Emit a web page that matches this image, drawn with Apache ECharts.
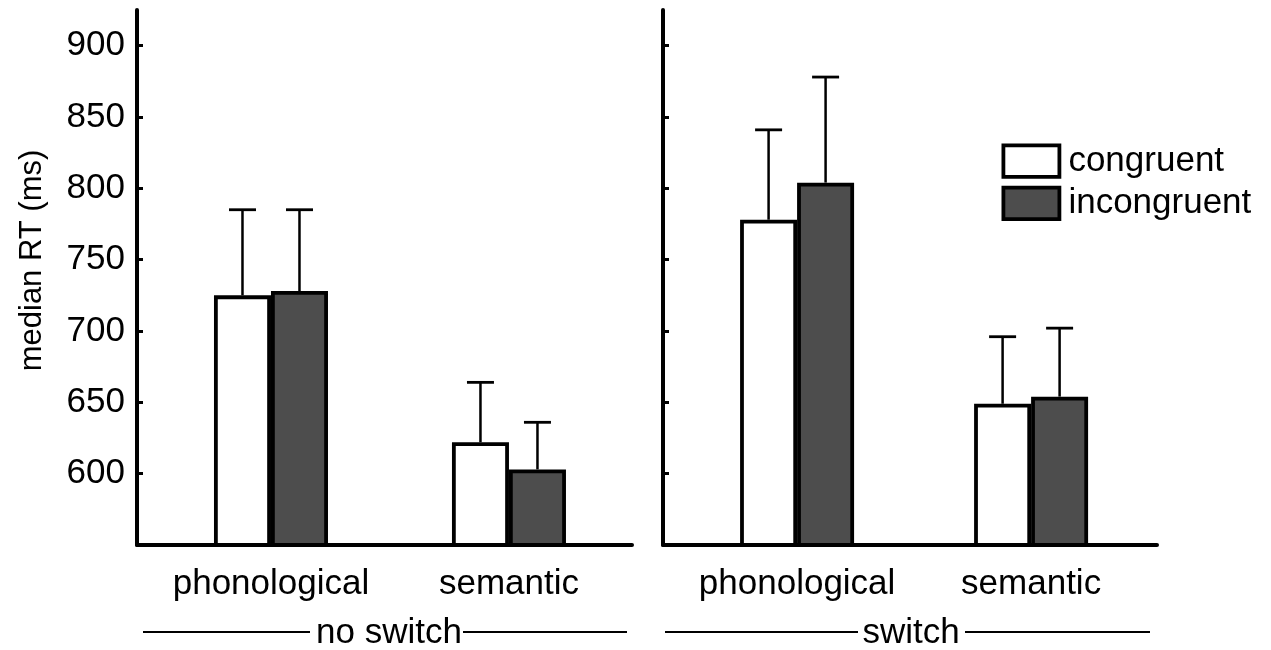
<!DOCTYPE html>
<html>
<head>
<meta charset="utf-8">
<script src="https://cdn.jsdelivr.net/npm/echarts@6/dist/echarts.min.js"></script>
<style>
html,body{margin:0;padding:0;background:#ffffff;}
#chart{width:1271px;height:650px;}
</style>
</head>
<body>
<div id="chart"></div>
<script>
// ---- data ----
const categories = ['phonological', 'semantic'];
const conditions = ['no switch', 'switch'];
const seriesNames = ['congruent', 'incongruent'];
const yTicks = [600, 650, 700, 750, 800, 850, 900];

const noSwitchCongruent = [725, 622];
const noSwitchIncongruent = [728, 603];
const switchCongruent = [778, 649];
const switchIncongruent = [804, 654];

const noSwitchCongruentErr = [60, 42];
const noSwitchIncongruentErr = [57, 33];
const switchCongruentErr = [63, 47];
const switchIncongruentErr = [74, 48];

// ---- styling ----
const FONT = '"Liberation Sans", Arial, Helvetica, sans-serif';
const FS = 35;
const BAR_W = 57;
const CAP_W = 27;
const DARK = '#4d4d4d';

const panels = [
  { cong: noSwitchCongruent, incong: noSwitchIncongruent, congErr: noSwitchCongruentErr, incongErr: noSwitchIncongruentErr },
  { cong: switchCongruent, incong: switchIncongruent, congErr: switchCongruentErr, incongErr: switchIncongruentErr }
];

const grids = [
  { left: 137, width: 495, top: 10, height: 535 },
  { left: 663, width: 494, top: 10, height: 535 }
];
const xRanges = [[0.437, 2.517], [0.427, 2.538]];

const xAxes = grids.map((g, p) => ({
  type: 'value', gridIndex: p, min: xRanges[p][0], max: xRanges[p][1], z: 5,
  axisLine: { show: true, onZero: false, lineStyle: { color: '#000', width: 4 } },
  axisTick: { show: false },
  splitLine: { show: false },
  axisLabel: {
    customValues: categories.map((c, i) => i + 1),
    formatter: v => categories[Math.round(v) - 1] || '',
    color: '#000', fontSize: FS, fontFamily: FONT, margin: 22
  }
}));

const yAxes = grids.map((g, p) => ({
  type: 'value', gridIndex: p, min: 550, max: 925, interval: 50, z: 5,
  name: p === 0 ? 'median RT (ms)' : '',
  nameLocation: 'middle', nameGap: 89,
  nameTextStyle: { color: '#000', fontSize: 31, fontFamily: FONT, padding: [0, 0, 0, 34] },
  axisLine: { show: true, onZero: false, lineStyle: { color: '#000', width: 4 } },
  axisTick: { show: true, inside: true, length: 6, customValues: yTicks, lineStyle: { color: '#000', width: 3 } },
  splitLine: { show: false },
  axisLabel: {
    show: p === 0, customValues: yTicks,
    color: '#000', fontSize: FS, fontFamily: FONT, margin: 12
  }
}));

const series = [];
panels.forEach((pd, p) => {
  const sets = [
    { name: seriesNames[0], vals: pd.cong, err: pd.congErr, color: '#ffffff', side: -1 },
    { name: seriesNames[1], vals: pd.incong, err: pd.incongErr, color: DARK, side: 1 }
  ];
  sets.forEach(s => {
    series.push({
      type: 'bar', name: s.name, xAxisIndex: p, yAxisIndex: p,
      data: s.vals.map((v, i) => [i + 1, v]),
      barWidth: BAR_W, barGap: '0%', clip: true, z: 3,
      itemStyle: { color: s.color, borderColor: '#000', borderWidth: 3.8 },
      emphasis: { disabled: true }, silent: true
    });
  });
  sets.forEach(s => {
    series.push({
      type: 'custom', xAxisIndex: p, yAxisIndex: p, z: 2, silent: true,
      data: s.vals.map((v, i) => [i + 1, v, v + s.err[i]]),
      renderItem: (params, api) => {
        const p0 = api.coord([api.value(0), api.value(1)]);
        const p1 = api.coord([api.value(0), api.value(2)]);
        const x = p0[0] + s.side * BAR_W / 2;
        return {
          type: 'group',
          children: [
            { type: 'line', shape: { x1: x, y1: p0[1], x2: x, y2: p1[1] }, style: { stroke: '#000', lineWidth: 2.5 } },
            { type: 'line', shape: { x1: x - CAP_W / 2, y1: p1[1], x2: x + CAP_W / 2, y2: p1[1] }, style: { stroke: '#000', lineWidth: 2.8 } }
          ]
        };
      }
    });
  });
});

const groupLabelY = 633;
const graphic = [
  { type: 'line', shape: { x1: 143, y1: 632, x2: 310, y2: 632 }, style: { stroke: '#000', lineWidth: 1.8 } },
  { type: 'line', shape: { x1: 463, y1: 632, x2: 627, y2: 632 }, style: { stroke: '#000', lineWidth: 1.8 } },
  { type: 'text', x: 389, y: groupLabelY, style: { text: conditions[0], fill: '#000', font: FS + 'px ' + FONT, textAlign: 'center', textVerticalAlign: 'middle' } },
  { type: 'line', shape: { x1: 665, y1: 632, x2: 858, y2: 632 }, style: { stroke: '#000', lineWidth: 1.8 } },
  { type: 'line', shape: { x1: 965, y1: 632, x2: 1150, y2: 632 }, style: { stroke: '#000', lineWidth: 1.8 } },
  { type: 'text', x: 911, y: groupLabelY, style: { text: conditions[1], fill: '#000', font: FS + 'px ' + FONT, textAlign: 'center', textVerticalAlign: 'middle' } }
];

const chart = echarts.init(document.getElementById('chart'), null, { renderer: 'canvas' });
chart.setOption({
  animation: false,
  backgroundColor: '#ffffff',
  grid: grids,
  xAxis: xAxes,
  yAxis: yAxes,
  legend: {
    data: seriesNames, orient: 'vertical', left: 996.5, top: 138.5,
    itemWidth: 56, itemHeight: 31.5, itemGap: 7, icon: 'rect',
    itemStyle: { borderColor: '#000', borderWidth: 3.8 },
    textStyle: { color: '#000', fontSize: FS, fontFamily: FONT, padding: [0, 0, 0, 4] },
    selectedMode: false
  },
  tooltip: { show: false },
  graphic: graphic,
  series: series
});
</script>
</body>
</html>
